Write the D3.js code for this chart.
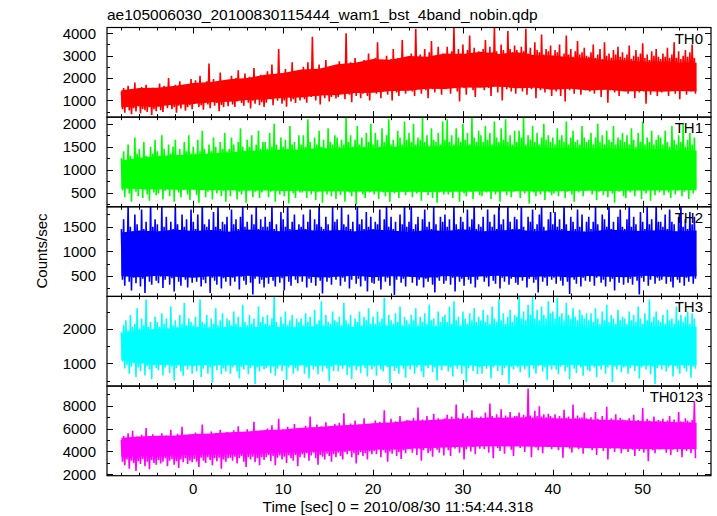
<!DOCTYPE html>
<html><head><meta charset="utf-8">
<script src="https://cdn.jsdelivr.net/npm/d3@7"></script>
<style>
body{margin:0;background:#fff}
svg{display:block}
text{font-family:"Liberation Sans",Arial,Helvetica,sans-serif;fill:#000}
</style>
</head><body>
<svg id="c" width="717" height="516"></svg>
<script>
// ---------- text ----------
const title = "ae105006030_20100830115444_wam1_bst_4band_nobin.qdp";
const xLabel = "Time [sec] 0 = 2010/08/30 11:54:44.318";
const yLabel = "Counts/sec";
const seriesNames = ["TH0", "TH1", "TH2", "TH3", "TH0123"];
const seriesColors = ["#ff0000", "#00ff00", "#0000ff", "#00ffff", "#ff00ff"];

// ---------- axes ----------
const xDomain = [-9.6, 57.6];
const xTicks = [0, 10, 20, 30, 40, 50];
const xMinorStep = 2;
const yDomains = [[250, 4260], [190, 2145], [80, 1905], [340, 2940], [1880, 9720]];
const yTicks = [[1000, 2000, 3000, 4000], [500, 1000, 1500, 2000], [500, 1000, 1500], [1000, 2000], [2000, 4000, 6000, 8000]];
const yMinorStep = [500, 250, 250, 500, 1000];

// ---------- data ----------
// per 0.25 s bin: max (hi) and min (lo) count rate
const tStart = -8, binWidth = 0.25;
// per 2 s step: upper / lower edge of the densely filled core
const coreStart = -8, coreStep = 2;

const th0Hi = [
1400,1550,1300,1650,1450,1250,1800,1500,1350,1600,1420,1700,1280,1480,1560,1380,
1500,1750,1400,1650,1550,2000,1450,1600,1700,1350,1850,1500,1650,1450,1600,1950,
1700,1900,1600,2100,1750,1550,1850,2650,1700,1950,1650,1800,2250,1600,1900,1750,
1900,2100,1750,2000,2350,1850,1950,2200,1800,2050,1950,2450,1850,2000,2150,1900,
2100,2300,1950,2600,2150,2050,3300,2200,2000,2400,2150,2050,2700,2250,2100,2350,
2300,2500,2200,2700,2350,3850,2400,2250,2600,2350,2150,2800,2450,2300,2550,2400,
2500,2750,2400,2600,4000,2550,2700,2450,2900,2550,2350,2650,2800,2500,3100,2600,
2700,2900,3600,2650,2800,2600,3000,2750,2850,3300,2650,2900,2750,3700,2800,2950,
2900,3100,2800,4200,2950,3050,2850,3300,2900,3150,3650,2850,3000,3400,2950,3100,
3000,3400,2900,3200,4250,3050,3300,3100,3500,2950,3250,3900,3100,3350,3000,3200,
3100,3300,3700,3050,3400,3150,4300,3200,3050,3500,3250,3100,4100,3300,3150,3450,
3250,3050,3400,3200,4200,3100,3350,3000,3600,3250,3150,3950,3050,3300,3200,3450,
3000,3250,3150,3500,2950,3100,3900,3050,3300,2950,3200,3650,3050,3150,3350,3000,
2950,3150,3500,2900,3050,3300,2850,3600,3000,3100,2900,3250,3050,3400,2950,3150,
2900,3050,3450,2850,3000,3250,2950,3100,3550,2900,3050,2800,3200,3000,3300,2950,
2850,3100,2950,3350,2900,3050,3600,2900,3200,2850,3000,3250,2950,3150,3500,2900];
const th0Lo = [
600,450,700,550,380,650,500,750,420,620,560,480,700,350,600,520,
720,560,480,800,650,900,600,700,450,760,640,820,540,690,780,600,
850,1000,700,780,580,900,820,650,950,760,880,520,800,700,1020,740,
1000,820,700,950,1150,880,760,1050,900,640,980,850,1100,780,920,700,
900,1150,1050,780,1250,980,1100,850,1000,720,1180,950,1050,880,1300,1000,
1250,1050,900,1300,1150,1400,1000,1200,820,1350,1100,1250,950,1150,1450,1080,
1150,1400,1300,1050,1500,1250,920,1350,1200,1450,1100,1300,1550,1200,1000,1380,
1500,1300,1650,1100,1400,1550,1250,1450,1000,1600,1350,1200,1500,1700,1300,1450,
1600,1400,1200,1700,1550,1300,1800,1450,1100,1650,1500,1350,1750,1550,1250,1600,
1500,1750,1300,1600,1850,1400,950,1700,1550,1250,1800,1650,1450,1150,1700,1600,
1700,1450,1900,1550,1200,1650,1800,1350,1600,1000,1750,1500,1850,1400,1650,1300,
1550,1800,1400,1650,1250,1700,1500,1850,1100,1600,1450,1750,1350,1650,1500,1200,
1650,1400,1750,1200,1550,950,1700,1450,1600,1300,1800,1500,1250,1650,1450,1550,
1400,1650,1300,1550,1700,1150,1500,1600,900,1450,1700,1350,1550,1200,1600,1450,
1550,1300,1450,1650,1100,1500,1350,1700,1400,850,1550,1250,1600,1450,1200,1500,
1350,1600,1450,1200,1550,1700,1300,1500,1050,1450,1650,1250,1550,1400,1600,1300];
const th0CoreHi = [1450,1550,1560,1650,1780,1820,1950,2000,2150,2220,2380,2420,2620,2680,2850,2820,2980,2950,3100,3080,3180,3080,3150,3020,3010,2920,2880,2780,2800,2720,2740,2680,2680];
const th0CoreLo = [700,740,730,820,840,920,940,1020,1040,1120,1130,1220,1240,1330,1340,1420,1430,1520,1510,1580,1560,1620,1540,1570,1480,1520,1440,1470,1400,1420,1390,1420,1400];

const th1Hi = [
1250,1400,1150,1550,1300,1200,1700,1350,1450,1250,1600,1300,1200,1500,1350,1650,
1400,1300,1750,1450,1250,1550,1350,1500,1650,1300,1450,1200,1600,1400,1750,1350,
1500,1350,1650,1400,1850,1450,1300,1550,1400,1700,1500,1350,1600,1450,1800,1400,
1450,1700,1550,1350,1600,1900,1500,1400,1650,1500,1750,1400,1550,1850,1450,1600,
1600,1450,1800,1500,2000,1550,1400,1700,1500,1650,1450,1950,1550,1600,1400,1750,
1550,1750,1500,2100,1600,1450,1700,1550,1850,1500,1650,1450,1900,1600,1550,1750,
1700,1500,1650,1550,2150,1600,1750,1500,1650,1950,1550,1700,1500,1800,1600,2000,
1550,1800,1650,1500,1900,1600,1750,2100,1550,1650,1500,1850,1700,1550,2050,1650,
1800,1600,2000,1550,1700,1650,2150,1600,1750,1500,1900,1650,1600,1800,1550,2050,
1650,2100,1600,1750,1550,1900,1700,1600,2000,1650,1800,1550,2150,1700,1600,1850,
1750,1600,1950,1650,1800,1550,2050,1700,1600,1900,1650,2100,1600,1750,1550,1850,
1600,1850,1700,2150,1550,1750,1650,1950,1600,1800,1550,1700,2000,1650,1750,1600,
1700,1550,1900,1650,1750,1600,2050,1550,1700,1850,1600,1650,1550,1950,1700,1600,
1650,1800,1550,1700,2000,1600,1750,1550,1850,1650,1600,1950,1550,1700,1650,1800,
1600,1750,1550,1900,1650,1500,1800,1600,2050,1550,1700,1600,1850,1550,1650,1750,
1700,1550,1850,1600,1500,1950,1650,1550,1750,1600,2000,1500,1650,1800,1550,1700];
const th1Lo = [
550,400,650,480,300,600,520,420,700,380,560,460,320,620,500,440,
480,620,350,540,700,420,580,300,650,500,400,560,720,460,340,600,
600,450,280,560,680,400,520,620,350,580,480,700,420,540,300,640,
420,580,700,350,520,460,640,280,560,600,400,520,680,380,500,620,
560,400,520,640,300,580,460,700,420,540,260,600,480,380,650,500,
500,640,380,560,460,720,340,520,600,280,540,460,660,420,580,360,
620,440,560,300,680,500,420,580,240,540,640,460,380,600,500,700,
460,580,360,640,500,420,700,300,560,480,620,380,540,660,440,520,
540,400,660,480,580,320,520,620,440,700,380,560,280,500,640,460,
600,460,520,380,680,540,300,600,480,420,660,520,360,580,700,440,
420,620,500,700,360,560,460,640,300,540,600,440,680,400,520,580,
560,380,640,480,540,260,600,500,420,680,460,580,340,620,500,440,
480,600,420,560,700,380,520,640,460,300,580,500,660,420,540,600,
640,460,580,340,520,620,440,700,400,560,480,280,600,520,660,420,
380,560,500,640,420,580,700,360,540,480,620,320,560,440,600,500,
580,440,660,500,380,600,460,540,700,420,520,640,360,580,480,620];
const th1CoreHi = [1200,1260,1290,1320,1320,1360,1370,1410,1410,1440,1440,1470,1460,1490,1480,1500,1490,1510,1500,1520,1500,1510,1490,1500,1470,1480,1460,1460,1450,1440,1440,1420,1420];
const th1CoreLo = [590,580,570,560,560,550,550,540,545,535,540,525,530,520,525,515,520,515,520,520,525,520,530,525,530,535,540,535,540,545,545,550,550];

const th2Hi = [
1450,1650,1350,1950,1500,1400,1750,1550,1300,1850,1450,1600,1400,2000,1500,1650,
1550,1400,1900,1500,1700,1350,1600,1450,1950,1550,1400,1750,1500,1650,1350,1850,
1600,1450,1750,1400,2000,1550,1500,1650,1400,1800,1500,1950,1450,1600,1550,1700,
1400,1850,1550,1650,1450,1700,1950,1500,1600,1400,1750,1550,1900,1450,1650,1500,
1700,1500,1600,1950,1450,1550,1400,1800,1650,1500,2000,1450,1600,1750,1400,1550,
1500,1750,1450,1600,1850,1400,1650,1550,1950,1500,1450,1700,1550,1400,1900,1600,
1650,1400,1900,1550,1500,1750,1450,1600,1400,2000,1550,1650,1450,1800,1500,1700,
1450,1600,1550,1850,1400,1650,1950,1500,1700,1450,1600,1400,1750,1550,2000,1500,
1600,1950,1450,1550,1700,1400,1650,1850,1500,1600,1450,1900,1550,1400,1700,1600,
1750,1500,1650,1400,1950,1550,1450,1700,1600,1400,1850,1500,1650,2000,1450,1550,
1500,1700,1400,1850,1600,1500,1750,1450,2000,1550,1650,1400,1900,1600,1450,1700,
1650,1450,1950,1500,1400,1700,1600,1850,1450,1550,1750,1950,1500,1400,1650,1800,
1550,1800,1500,1650,1450,2000,1550,1400,1700,1600,1450,1850,1500,1750,1400,1600,
1700,1450,1600,1900,1550,1400,1750,1650,1500,1950,1450,1600,1400,1700,1850,1500,
1450,1650,1950,1500,1700,1550,1400,1800,1600,1450,1900,1550,1650,1400,2000,1600,
1600,1500,1750,1450,1850,1600,1550,1400,1700,1950,1500,1650,1450,1800,1550,1700];
const th2Lo = [
420,300,520,380,200,460,350,580,280,440,150,500,380,320,560,400,
350,480,250,420,560,320,450,180,520,380,300,600,420,260,480,360,
500,380,600,280,420,350,500,150,460,400,320,540,240,450,380,520,
300,460,380,520,220,480,400,320,580,360,120,440,500,340,420,260,
460,340,540,400,280,500,360,450,200,520,380,300,580,420,350,480,
380,520,260,440,360,560,300,480,400,140,500,380,460,320,540,420,
520,300,460,380,580,240,420,500,340,440,280,560,400,180,480,360,
340,480,400,220,520,380,460,300,560,110,420,500,360,440,280,520,
480,360,560,300,420,500,260,440,380,540,320,160,460,400,520,340,
400,540,320,460,180,500,380,440,300,560,420,340,480,260,420,500,
540,380,460,280,520,400,340,580,240,460,380,500,320,440,560,360,
320,480,400,540,260,440,500,360,420,160,520,380,460,300,480,420,
460,340,520,400,300,560,380,130,480,420,340,540,280,460,400,500,
380,500,300,460,540,360,420,280,500,380,440,200,520,360,480,320,
500,360,440,320,480,400,120,460,380,540,300,420,500,340,460,400,
420,520,340,480,380,260,500,420,360,560,300,460,380,520,340,440];
const th2CoreHi = [1380,1420,1400,1440,1410,1430,1390,1440,1420,1400,1450,1410,1430,1400,1440,1420,1390,1430,1410,1450,1400,1420,1440,1400,1430,1410,1390,1440,1420,1410,1430,1400,1420];
const th2CoreLo = [490,470,500,480,460,490,475,500,470,485,495,465,480,500,470,490,480,460,495,475,485,500,470,480,490,465,495,480,470,500,485,475,490];

const th3Hi = [
1900,2100,2250,1950,2400,2050,2150,2600,2000,2300,2100,2850,2050,2200,1950,2350,
2200,2050,2450,2150,2300,2000,2650,2100,2250,2050,2400,2150,2750,2100,2300,2200,
2100,2350,2050,2850,2200,2150,2400,2050,2300,2150,2600,2100,2250,2450,2050,2300,
2250,2100,2500,2150,2350,2050,2700,2200,2100,2400,2150,2300,2050,2650,2200,2350,
2150,2400,2100,2300,2950,2200,2050,2350,2150,2500,2100,2250,2400,2050,2300,2200,
2300,2100,2450,2200,2350,2050,2550,2150,2250,2800,2100,2400,2200,2150,2500,2250,
2200,2350,2100,2750,2250,2150,2400,2050,2300,2200,2500,2100,2350,2250,2600,2150,
2350,2150,2500,2200,2300,2900,2100,2400,2250,2150,2450,2200,2650,2100,2350,2250,
2150,2400,2250,2600,2100,2350,2200,2450,2150,2700,2250,2300,2100,2500,2200,2350,
2400,2200,2650,2150,2800,2250,2350,2100,2500,2300,2150,2450,2250,2600,2200,2350,
2250,2550,2200,2400,2150,2650,2300,2200,2850,2250,2450,2150,2350,2550,2200,2400,
2350,2950,2300,2500,2250,2700,2400,2950,2300,2550,2250,2650,2400,2300,2800,2450,
2500,2300,2900,2350,2450,2250,2750,2400,2300,2600,2350,2250,2550,2400,2300,2450,
2250,2450,2200,2600,2300,2150,2500,2250,2700,2200,2400,2300,2150,2550,2250,2350,
2300,2150,2500,2250,2400,2200,2650,2300,2150,2450,2250,2850,2200,2350,2500,2250,
2200,2400,2150,2550,2250,2300,2150,2650,2250,2400,2200,2350,2500,2150,2450,2300];
const th3Lo = [
1050,850,950,700,900,1000,600,880,780,1050,650,920,820,540,950,860,
800,960,650,880,1020,720,900,500,860,980,760,640,920,820,1000,700,
920,760,1050,600,840,960,700,880,440,920,800,1000,680,860,760,940,
700,880,980,760,560,900,820,1020,680,860,940,400,880,760,1000,820,
860,1000,720,900,640,840,960,780,920,520,880,1000,700,860,780,940,
980,700,880,560,960,820,900,680,1040,760,920,840,480,900,780,1000,
760,920,840,1000,660,880,540,960,800,900,720,1020,860,620,940,820,
900,640,980,820,760,1000,880,420,920,780,860,700,1000,840,580,920,
820,960,700,880,1040,760,600,920,860,980,740,880,500,940,800,1000,
1000,760,880,620,940,840,1020,700,900,460,860,980,780,920,680,880,
700,920,840,980,560,880,1000,780,920,660,860,940,400,900,820,1000,
880,740,1000,820,900,580,960,840,700,920,1000,760,880,520,940,820,
940,820,680,900,1020,760,880,540,960,840,720,1000,880,640,920,800,
760,980,880,600,920,820,1040,700,880,960,460,900,820,1000,740,880,
900,700,860,1000,780,920,560,880,1020,820,940,680,900,400,860,960,
820,940,760,880,1000,620,920,840,700,980,860,760,940,580,900,840];
const th3CoreHi = [1850,1950,2000,2020,2050,2000,2060,2030,2070,2040,2050,2080,2030,2060,2050,2080,2040,2070,2050,2060,2090,2040,2080,2060,2050,2070,2030,2060,2050,2040,2060,2030,2050];
const th3CoreLo = [1100,1000,960,950,930,960,940,950,920,950,940,930,960,930,950,920,940,960,930,950,920,940,930,950,940,960,930,950,940,930,950,940,950];

const th0123Hi = [
5000,5350,4900,5600,5150,5800,5050,5300,4950,5450,5150,6050,5000,5250,5500,5100,
5250,5050,5600,5200,5400,5100,5900,5300,5150,5550,5050,6150,5350,5200,5450,5250,
5400,5650,5250,5500,6350,5350,5450,5200,5750,5400,5600,5300,5900,5450,5350,5700,
5600,5450,5850,5550,6200,5500,5700,5400,5950,5600,5500,6600,5650,5450,5800,5550,
5750,6000,5650,6300,5800,5600,6850,5750,5950,5700,6150,5650,5900,6400,5750,5850,
6000,5800,6250,5950,7050,6100,5900,6350,5850,6200,6000,6550,5900,6150,6000,6400,
6200,6500,6100,7350,6250,6050,6450,6200,6700,6150,6350,6100,6900,6250,6400,6150,
6450,6700,6350,6600,6400,7600,6500,6300,6850,6450,6650,6350,7100,6500,6400,6750,
6700,6500,6950,6600,7850,6650,6800,6550,7100,6700,6600,7300,6650,6900,6550,6800,
6900,7200,6800,7050,6850,8100,6950,6750,7350,6900,7100,6800,7600,6950,7000,6850,
7050,6900,7400,7000,8200,7100,6950,7250,7000,7700,6900,7150,7000,7450,6950,7100,
7100,7400,7000,7200,7050,9500,7150,7000,7550,7100,7950,7050,7250,7000,7300,7100,
6950,7250,6850,7100,6900,7650,6950,7050,6850,8100,6900,7150,6950,7000,7400,6900,
6800,7000,6700,7450,6850,6750,7100,6800,7900,6750,6900,6800,7250,6700,6950,6800,
6700,6550,6900,6650,7200,6600,6750,6650,7800,6600,6850,6700,6550,7050,6650,6750,
6650,6850,6550,6700,7100,6600,6800,6550,7450,6650,6600,6900,6700,6550,6750,8400];
const th0123Lo = [
3100,2800,3300,2500,3200,3000,2300,3150,2900,3350,2700,3100,2450,3250,3000,2850,
3250,2950,3100,3400,2700,3200,3350,2850,3150,2550,3300,3050,3400,2900,3200,3050,
3350,3100,2650,3450,3200,3000,3500,3250,2800,3400,3150,3450,2500,3300,3100,3400,
3450,3200,3550,2950,3400,3600,3100,2650,3500,3300,3550,3050,3400,2800,3500,3250,
3500,3700,3150,3600,2800,3450,3650,3300,3550,3000,3650,3400,3200,3700,2700,3500,
3750,3450,3850,3200,3650,3900,3400,2850,3700,3550,3300,3800,3600,3100,3750,3500,
3900,3600,3300,3950,3750,4050,3500,3850,2950,3700,3950,3600,3850,3300,4000,3750,
4050,3750,4200,3500,4100,3900,3100,4000,3800,4150,3600,3950,3350,4100,3850,4200,
4200,3900,4350,3700,4250,3200,4100,4300,3850,4050,3550,4300,4150,3900,4400,3650,
4400,4100,3600,4450,4250,4550,3900,4350,3300,4200,4500,4000,4400,3750,4550,4250,
4500,4200,4650,3900,4450,3400,4600,4300,4050,4550,3800,4450,4650,4150,3600,4500,
4600,4300,4700,3950,4500,4650,3500,4550,4350,4100,4700,3850,4550,4400,4750,4200,
4450,4650,4100,4550,3450,4400,4600,4250,3900,4500,4650,4200,4450,3800,4550,4350,
4350,4100,4500,3700,4300,4550,4050,4400,3300,4250,4450,3950,4350,4500,3850,4200,
4250,3950,4400,4150,3600,4300,4050,4450,3900,4200,3150,4350,4100,3850,4300,4200,
4200,4400,3900,4250,3700,4150,4350,3950,4300,3500,4200,4050,4400,3850,4250,3400];
const th0123CoreHi = [5200,5300,5380,5400,5520,5580,5680,5740,5870,5930,6080,6130,6270,6330,6470,6530,6680,6720,6820,6850,6920,6930,6960,6880,6910,6840,6810,6740,6720,6640,6620,6540,6520];
const th0123CoreLo = [3550,3620,3580,3660,3690,3760,3740,3820,3840,3910,3940,4020,4040,4110,4140,4220,4240,4310,4340,4410,4440,4460,4430,4420,4380,4360,4290,4310,4240,4220,4190,4210,4200];

const seriesHi = [th0Hi, th1Hi, th2Hi, th3Hi, th0123Hi];
const seriesLo = [th0Lo, th1Lo, th2Lo, th3Lo, th0123Lo];
const seriesCoreHi = [th0CoreHi, th1CoreHi, th2CoreHi, th3CoreHi, th0123CoreHi];
const seriesCoreLo = [th0CoreLo, th1CoreLo, th2CoreLo, th3CoreLo, th0123CoreLo];

// ---------- layout ----------
const plotL = 107, plotR = 711, plotT = 27.5, plotB = 475.7;
const nP = seriesNames.length;
const pH = (plotB - plotT) / nP;
const majorLen = 6, minorLen = 3;

const svg = d3.select("#c");
const x = d3.scaleLinear().domain(xDomain).range([plotL, plotR]);

const xMinor = d3.range(Math.ceil(xDomain[0] / xMinorStep) * xMinorStep, xDomain[1], xMinorStep)
  .filter(v => !xTicks.includes(v));

seriesNames.forEach((name, p) => {
  const y0 = plotT + p * pH, y1 = y0 + pH;
  const y = d3.scaleLinear().domain(yDomains[p]).range([y1, y0]);
  const g = svg.append("g");

  g.append("clipPath").attr("id", "clip" + p)
    .append("rect").attr("x", plotL).attr("y", y0).attr("width", plotR - plotL).attr("height", pH);

  const dg = g.append("g").attr("clip-path", `url(#clip${p})`);

  // dense core band
  const core = seriesCoreHi[p].map((hv, k) => ({ t: coreStart + k * coreStep, hi: hv, lo: seriesCoreLo[p][k] }));
  dg.append("path")
    .attr("d", d3.area().x(d => x(d.t)).y0(d => y(d.lo)).y1(d => y(d.hi))(core))
    .attr("fill", seriesColors[p]);

  // light curve: bin max / bin min alternating
  const pts = [];
  seriesHi[p].forEach((hv, i) => {
    const t = tStart + i * binWidth;
    pts.push([t, hv]);
    pts.push([t + binWidth / 2, seriesLo[p][i]]);
  });
  dg.append("path").attr("d", d3.line().x(d => x(d[0])).y(d => y(d[1]))(pts))
    .attr("fill", "none").attr("stroke", seriesColors[p])
    .attr("stroke-width", 1.6).attr("stroke-linejoin", "miter");

  // ticks
  const tk = g.append("g").attr("stroke", "#000").attr("stroke-width", 1);
  xTicks.forEach(v => {
    const xx = Math.round(x(v)) + 0.5;
    tk.append("line").attr("x1", xx).attr("x2", xx).attr("y1", y1).attr("y2", y1 - majorLen);
    tk.append("line").attr("x1", xx).attr("x2", xx).attr("y1", y0).attr("y2", y0 + majorLen);
  });
  xMinor.forEach(v => {
    const xx = Math.round(x(v)) + 0.5;
    tk.append("line").attr("x1", xx).attr("x2", xx).attr("y1", y1).attr("y2", y1 - minorLen);
    tk.append("line").attr("x1", xx).attr("x2", xx).attr("y1", y0).attr("y2", y0 + minorLen);
  });
  const yd = yDomains[p];
  const yMin = d3.range(Math.ceil(yd[0] / yMinorStep[p]) * yMinorStep[p], yd[1], yMinorStep[p])
    .filter(v => !yTicks[p].includes(v));
  yTicks[p].forEach(v => {
    const yy = Math.round(y(v)) + 0.5;
    tk.append("line").attr("x1", plotL).attr("x2", plotL + majorLen).attr("y1", yy).attr("y2", yy);
    tk.append("line").attr("x1", plotR).attr("x2", plotR - majorLen).attr("y1", yy).attr("y2", yy);
    g.append("text").attr("x", plotL - 11).attr("y", y(v)).attr("dy", "0.36em")
      .attr("text-anchor", "end").attr("font-size", 15).text(v);
  });
  yMin.forEach(v => {
    const yy = Math.round(y(v)) + 0.5;
    tk.append("line").attr("x1", plotL).attr("x2", plotL + minorLen).attr("y1", yy).attr("y2", yy);
    tk.append("line").attr("x1", plotR).attr("x2", plotR - minorLen).attr("y1", yy).attr("y2", yy);
  });

  // frame
  g.append("rect").attr("x", plotL).attr("y", y0).attr("width", plotR - plotL).attr("height", pH)
    .attr("fill", "none").attr("stroke", "#000").attr("stroke-width", 1.2);

  // panel label
  g.append("text").attr("x", 703).attr("y", y0 + 16).attr("text-anchor", "end")
    .attr("font-size", 15).text(name);
});

// x tick labels
xTicks.forEach(v => {
  svg.append("text").attr("x", x(v)).attr("y", 493.5).attr("text-anchor", "middle")
    .attr("font-size", 15).text(v);
});

svg.append("text").attr("x", 107).attr("y", 20).attr("font-size", 15.5).text(title);
svg.append("text").attr("x", 398).attr("y", 511.5).attr("text-anchor", "middle")
  .attr("font-size", 15.4).text(xLabel);
svg.append("text").attr("transform", "translate(47,251) rotate(-90)")
  .attr("text-anchor", "middle").attr("font-size", 15).text(yLabel);
</script>
</body></html>
